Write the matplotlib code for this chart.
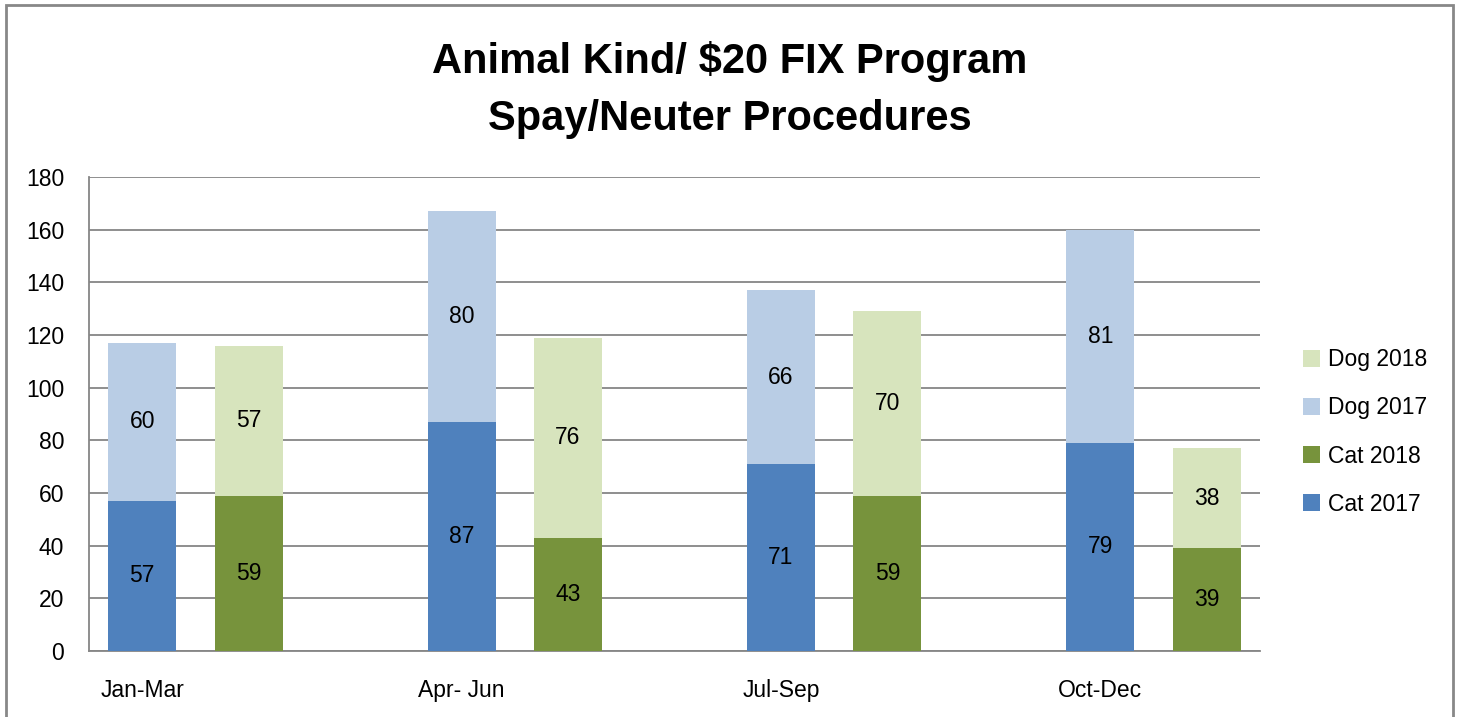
import numpy as np
import matplotlib as mpl
import matplotlib.pyplot as plt
from matplotlib.patches import Patch, Rectangle

mpl.rcParams["font.family"] = ["Liberation Sans", "DejaVu Sans"]

# data
quarters = ["Jan-Mar", "Apr- Jun", "Jul-Sep", "Oct-Dec"]
cat_2017 = [57, 87, 71, 79]
dog_2017 = [60, 80, 66, 81]
cat_2018 = [59, 43, 59, 39]
dog_2018 = [57, 76, 70, 38]

C_CAT17 = "#4F81BD"
C_DOG17 = "#B9CDE5"
C_CAT18 = "#77933C"
C_DOG18 = "#D7E4BD"
GRID = "#868686"

fig = plt.figure(figsize=(14.61, 7.17), dpi=100)
ax = fig.add_axes([89 / 1461, 1 - 651 / 717, (1260 - 89) / 1461, (651 - 177) / 717])

x17 = np.arange(len(quarters)) * 3
x18 = x17 + 1
w = 0.64

ax.bar(x17, cat_2017, w, color=C_CAT17, zorder=3)
ax.bar(x17, dog_2017, w, bottom=cat_2017, color=C_DOG17, zorder=3)
ax.bar(x18, cat_2018, w, color=C_CAT18, zorder=3)
ax.bar(x18, dog_2018, w, bottom=cat_2018, color=C_DOG18, zorder=3)

fs = 16.5
for i in range(len(quarters)):
    ax.text(x17[i], cat_2017[i] / 2, str(cat_2017[i]), ha="center", va="center", fontsize=fs, zorder=4)
    ax.text(x17[i], cat_2017[i] + dog_2017[i] / 2, str(dog_2017[i]), ha="center", va="center", fontsize=fs, zorder=4)
    ax.text(x18[i], cat_2018[i] / 2, str(cat_2018[i]), ha="center", va="center", fontsize=fs, zorder=4)
    ax.text(x18[i], cat_2018[i] + dog_2018[i] / 2, str(dog_2018[i]), ha="center", va="center", fontsize=fs, zorder=4)

ax.set_xlim(-0.5, 10.5)
ax.set_ylim(0, 180)
ax.set_yticks(range(0, 181, 20))
ax.set_xticks(x17)
ax.set_xticklabels(quarters)
ax.tick_params(axis="both", length=0, labelsize=fs)
ax.tick_params(axis="y", pad=18)
ax.tick_params(axis="x", pad=20)
ax.yaxis.grid(True, color=GRID, lw=1.3, zorder=0)
for s in ["top", "right"]:
    ax.spines[s].set_visible(False)
for s in ["left", "bottom"]:
    ax.spines[s].set_color(GRID)
    ax.spines[s].set_linewidth(1.3)

fig.text(0.4995, 1 - 61 / 717, "Animal Kind/ $20 FIX Program",
         ha="center", va="center", fontsize=30, fontweight="bold")
fig.text(0.4995, 1 - 119 / 717, "Spay/Neuter Procedures",
         ha="center", va="center", fontsize=30, fontweight="bold")

handles = [Patch(fc=C_DOG18, label="Dog 2018"), Patch(fc=C_DOG17, label="Dog 2017"),
           Patch(fc=C_CAT18, label="Cat 2018"), Patch(fc=C_CAT17, label="Cat 2017")]
fig.legend(handles=handles, loc="center left", bbox_to_anchor=(1282 / 1461, 1 - 432 / 717),
           frameon=False, fontsize=fs, handlelength=0.75, handleheight=0.75,
           handletextpad=0.35, labelspacing=1.1)

# chart border
fig.patches.append(Rectangle((6 / 1461, -0.01), (1453 - 6) / 1461, 1 - 5 / 717 + 0.01,
                             transform=fig.transFigure, fill=False, ec="#888888", lw=2))

fig.savefig("out.png", dpi=100)
